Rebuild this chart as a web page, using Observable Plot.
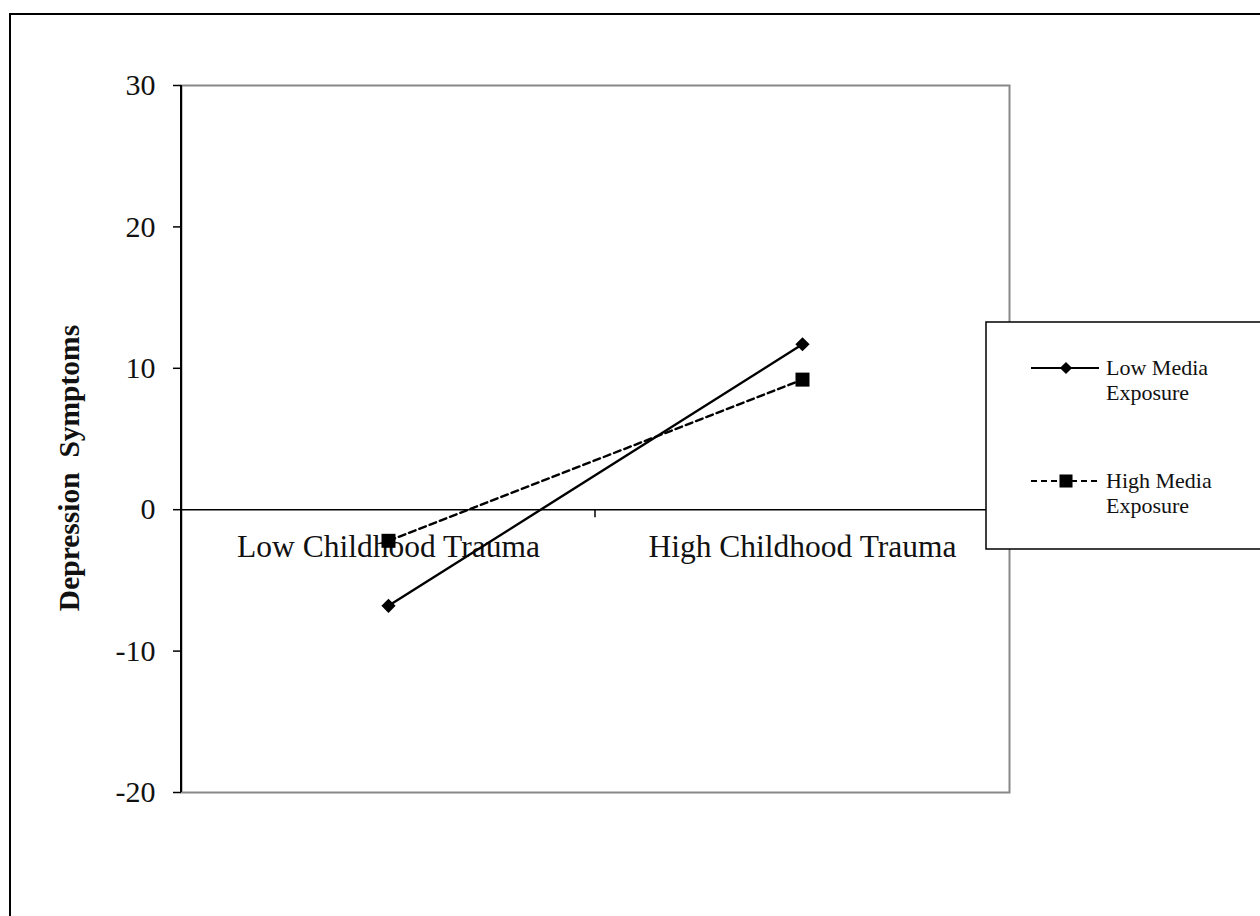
<!DOCTYPE html>
<html><head><meta charset="utf-8">
<script src="https://cdn.jsdelivr.net/npm/d3@7"></script>
<script src="https://cdn.jsdelivr.net/npm/@observablehq/plot@0.6"></script>
<style>
html,body{margin:0;padding:0;background:#fff;}
#wrap{position:relative;width:1260px;height:916px;overflow:hidden;font-family:"Liberation Serif","Times New Roman",serif;background:#fff;}
#chart{position:absolute;left:0;top:0;}
#overlay{position:absolute;left:0;top:0;}
#border{position:absolute;left:9px;top:13px;width:1400px;height:1100px;border:2px solid #000;box-sizing:border-box;pointer-events:none;}
</style></head><body>
<div id="wrap"><div id="chart"></div><svg id="overlay" width="1260" height="916"></svg><div id="border"></div></div>
<script>
const traumaLevels = ["Low Childhood Trauma", "High Childhood Trauma"];
const seriesNames = ["Low Media Exposure", "High Media Exposure"];
const legendLines = [["Low Media", "Exposure"], ["High Media", "Exposure"]];
const lowMediaValues = [-6.8, 11.7];
const highMediaValues = [-2.2, 9.2];
const yTicks = [-20, -10, 0, 10, 20, 30];
const yLabel = "Depression\u00a0 Symptoms";

const rows = [];
traumaLevels.forEach((t, i) => {
  rows.push({trauma: t, media: seriesNames[0], value: lowMediaValues[i]});
  rows.push({trauma: t, media: seriesNames[1], value: highMediaValues[i]});
});
const lowRows = rows.filter(d => d.media === seriesNames[0]);
const highRows = rows.filter(d => d.media === seriesNames[1]);

const FONT = "Liberation Serif, Times New Roman, serif";

const axisDecor = (index, scales, values, dims) => {
  const g = d3.create("svg:g");
  const y0 = scales.y(0);
  g.append("line")
    .attr("x1", dims.marginLeft).attr("x2", dims.marginLeft)
    .attr("y1", dims.marginTop).attr("y2", dims.height - dims.marginBottom)
    .attr("stroke", "#000").attr("stroke-width", 2);
  traumaLevels.forEach(t => {
    const x = scales.x(t);
    g.append("line").attr("x1", x).attr("x2", x).attr("y1", y0).attr("y2", y0 + 8)
      .attr("stroke", "#000").attr("stroke-width", 1.5);
  });
  const xe = dims.width - dims.marginRight;
  g.append("line").attr("x1", xe).attr("x2", xe).attr("y1", y0).attr("y2", y0 + 8)
    .attr("stroke", "#000").attr("stroke-width", 1.5);
  return g.node();
};

const plot = Plot.plot({
  width: 1260,
  height: 916,
  marginLeft: 181,
  marginRight: 251,
  marginTop: 85,
  marginBottom: 124,
  style: {fontFamily: FONT, fontSize: "30px", background: "transparent", color: "#000"},
  x: {type: "band", domain: traumaLevels, padding: 0, axis: null},
  y: {domain: [-20, 30], axis: null},
  marks: [
    Plot.frame({stroke: "#888", strokeWidth: 2}),
    Plot.axisY({ticks: yTicks, tickSize: 8, tickPadding: 18, fontSize: 30, tickFormat: d => String(d), label: null, stroke: "#000", strokeWidth: 1.5, fill: "#111"}),
    Plot.ruleY([0], {stroke: "#000", strokeWidth: 1.5}),
    axisDecor,
    Plot.text(traumaLevels, {x: d => d, y: () => 0, dy: 37, fontSize: 31.5, fill: "#111"}),
    Plot.line(highRows, {x: "trauma", y: "value", stroke: "#000", strokeWidth: 2.4, strokeDasharray: "7,4"}),
    Plot.line(lowRows, {x: "trauma", y: "value", stroke: "#000", strokeWidth: 2.4}),
    Plot.dot(highRows, {x: "trauma", y: "value", symbol: "square", r: 7.9, fill: "#000", stroke: "none"}),
    Plot.dot(lowRows, {x: "trauma", y: "value", symbol: "diamond2", r: 6.4, fill: "#000", stroke: "none"})
  ]
});
document.getElementById("chart").appendChild(plot);

const ov = d3.select("#overlay");
ov.append("text")
  .attr("transform", "translate(79,468) rotate(-90)")
  .attr("text-anchor", "middle")
  .attr("font-family", FONT).attr("font-weight", "bold").attr("font-size", 29.5)
  .attr("fill", "#111")
  .text(yLabel);

const lg = ov.append("g");
lg.append("rect").attr("x", 986).attr("y", 322).attr("width", 400).attr("height", 227)
  .attr("fill", "#fff").attr("stroke", "#000").attr("stroke-width", 1.5);
const entryY = [368, 481];
seriesNames.forEach((name, i) => {
  const y = entryY[i];
  lg.append("line").attr("x1", 1031).attr("x2", 1099).attr("y1", y).attr("y2", y)
    .attr("stroke", "#000").attr("stroke-width", 2.2)
    .attr("stroke-dasharray", i === 1 ? "6,4" : null);
  const sym = d3.symbol().type(i === 0 ? d3.symbolDiamond2 : d3.symbolSquare).size(i === 0 ? 95 : 170);
  lg.append("path").attr("d", sym()).attr("transform", `translate(1066,${y})`).attr("fill", "#000");
  const t = lg.append("text").attr("x", 1106).attr("y", y + 7)
    .attr("font-family", FONT).attr("font-size", 22).attr("fill", "#111");
  legendLines[i].forEach((s, j) => {
    t.append("tspan").attr("x", 1106).attr("dy", j === 0 ? 0 : 25).text(s);
  });
});
</script>
</body></html>
